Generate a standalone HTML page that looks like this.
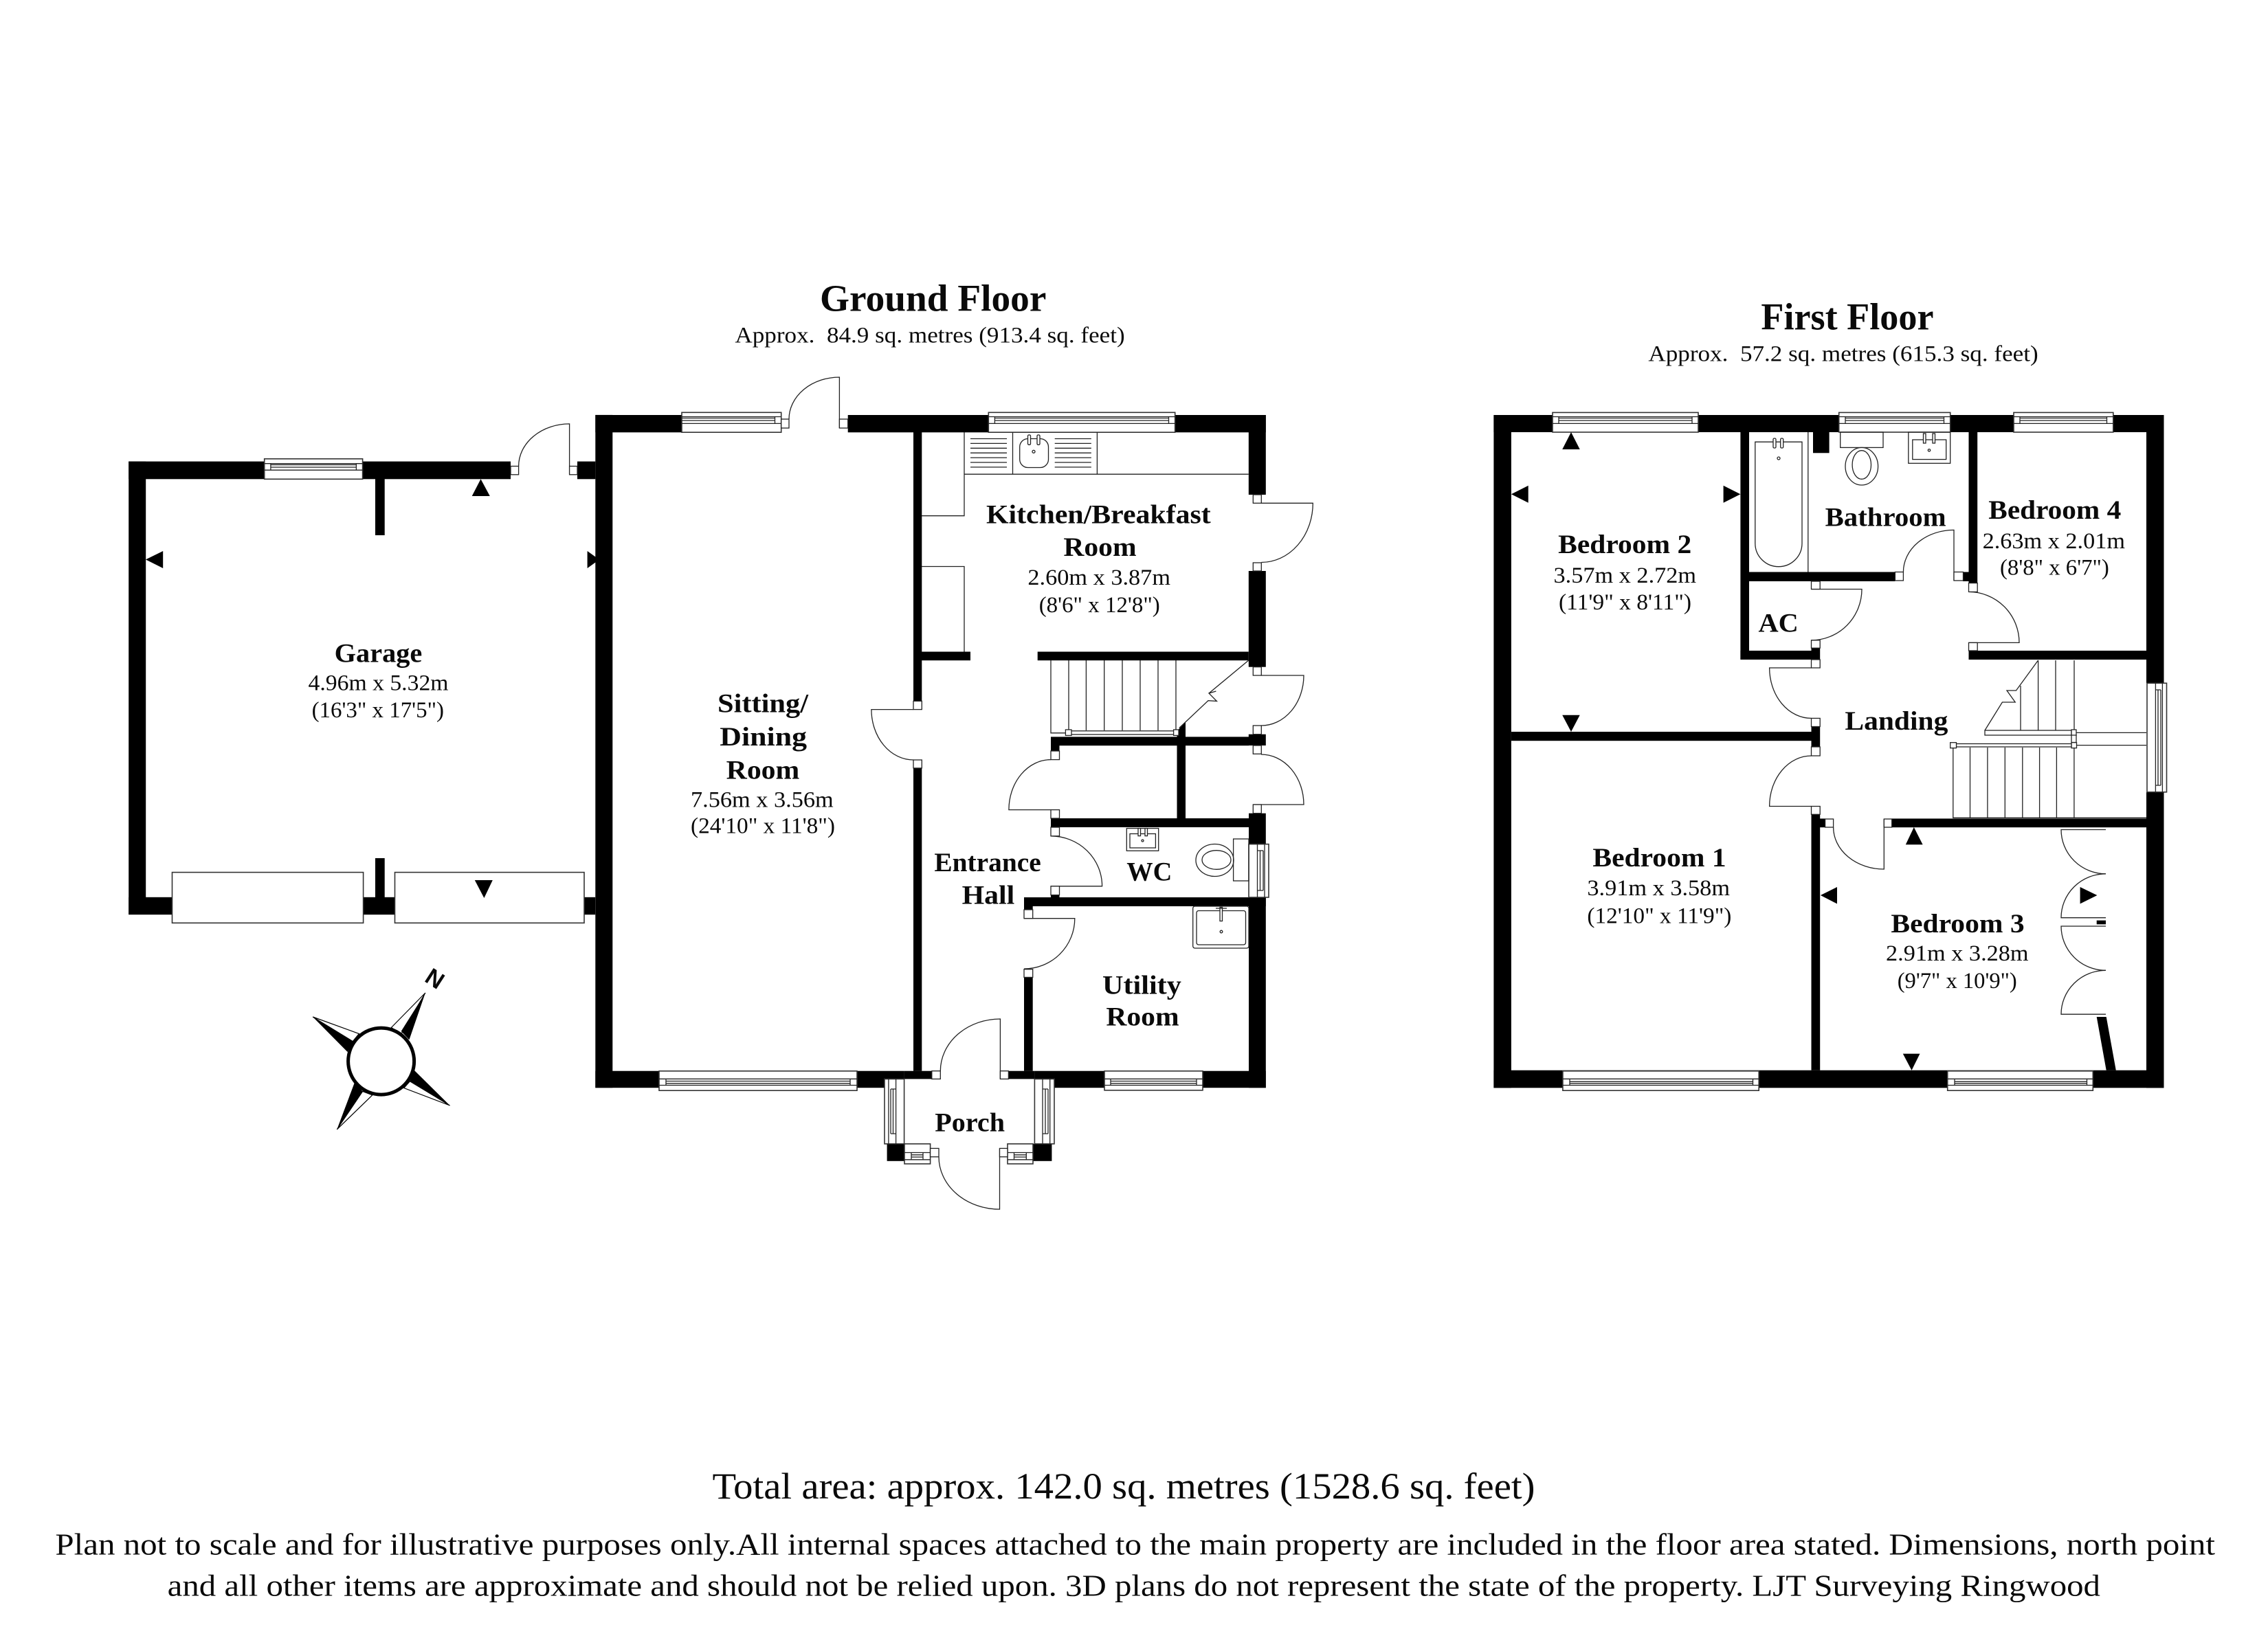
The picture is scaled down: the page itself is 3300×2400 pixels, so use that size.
<!DOCTYPE html>
<html><head><meta charset="utf-8"><title>Floor Plan</title>
<style>
html,body{margin:0;padding:0;background:#fff}
svg{display:block}
text{font-family:"Liberation Serif",serif;fill:#0a0a0a}
.n{font-weight:bold;font-size:39px}
.d{font-size:33px}
.w{fill:#000;stroke:none}
.j{fill:#fff;stroke:#222;stroke-width:1.3}
.l{fill:none;stroke:#222;stroke-width:1.3}
.o{fill:#fff;stroke:#333;stroke-width:1.6}
</style></head>
<body>
<svg width="3300" height="2400" viewBox="0 0 3300 2400" xmlns="http://www.w3.org/2000/svg">
<rect width="3300" height="2400" fill="#fff"/>

<!-- GROUND FLOOR WALLS -->
<g class="w">
<rect x="187.2" y="671.6" width="25" height="659.4"/>
<rect x="187.2" y="671.6" width="555.8" height="25.7"/>
<rect x="840" y="671.6" width="26.3" height="25.7"/>
<rect x="187.2" y="1305.8" width="679" height="25.4"/>
<rect x="546" y="697" width="13.7" height="82"/>
<rect x="546" y="1249" width="13.7" height="82"/>
<rect x="866.3" y="603.9" width="25" height="979.3"/>
<rect x="866.3" y="604" width="270.4" height="25.3"/>
<rect x="1233.7" y="604" width="608.1" height="25.3"/>
<rect x="1816.8" y="604" width="25" height="116"/>
<rect x="1816.8" y="831" width="25" height="139.7"/>
<rect x="1816.8" y="1068.7" width="25" height="16.3"/>
<rect x="1817" y="1183.7" width="24.8" height="399.5"/>
<rect x="866.3" y="1558.7" width="449.3" height="24.5"/>
<rect x="1315.6" y="1558.7" width="40.2" height="11.7"/>
<rect x="1467.4" y="1558.7" width="38" height="11.7"/>
<rect x="1505.4" y="1558.7" width="336.4" height="24.5"/>
<rect x="1329" y="629" width="12.3" height="392"/>
<rect x="1329" y="1117.3" width="12.3" height="441.4"/>
<rect x="1341" y="948.5" width="71" height="12.7"/>
<rect x="1509.7" y="948.5" width="307.1" height="12.7"/>
<rect x="1529" y="1072.4" width="288" height="12.8"/>
<rect x="1529" y="1085" width="12.5" height="8"/>
<polygon points="1725,1051 1712.5,1064 1712.5,1191 1725,1191"/>
<rect x="1529" y="1191" width="288" height="13"/>
<rect x="1490" y="1306" width="351.8" height="13"/>
<rect x="1529" y="1302.6" width="12.5" height="3.4"/>
<rect x="1490" y="1319" width="12.7" height="5"/>
<rect x="1490" y="1422.4" width="12.7" height="136.3"/>
<rect x="1290.6" y="1664.8" width="25.4" height="25"/>
<rect x="1503" y="1664.8" width="27.4" height="25"/>
</g>

<!-- FIRST FLOOR WALLS -->
<g class="w">
<rect x="2173.4" y="604" width="25.5" height="979.3"/>
<rect x="2173.4" y="604" width="975.1" height="25"/>
<rect x="3123" y="604" width="25.5" height="390.3"/>
<rect x="3123" y="1152.8" width="25.5" height="430.5"/>
<rect x="2173.4" y="1557.7" width="975.1" height="25.6"/>
<rect x="2532.4" y="629" width="12.6" height="331"/>
<rect x="2638" y="629" width="23.6" height="30.3"/>
<rect x="2864.5" y="629" width="12.7" height="219.6"/>
<rect x="2545" y="832.5" width="212.4" height="13.5"/>
<rect x="2856" y="832.5" width="9" height="13.5"/>
<rect x="2532.4" y="947" width="115.8" height="13"/>
<rect x="2635.5" y="943.2" width="12.7" height="3.8"/>
<rect x="2864.5" y="947" width="258.5" height="13"/>
<rect x="2198.9" y="1065" width="436.6" height="13.2"/>
<rect x="2635.5" y="1057.5" width="12.7" height="29.5"/>
<rect x="2635.5" y="1185.3" width="12.7" height="372.4"/>
<rect x="2635.5" y="1191.4" width="20" height="12.8"/>
<rect x="2752.7" y="1191.4" width="370.3" height="12.8"/>
<rect x="3050.7" y="1339.6" width="13.3" height="5.7"/>
<polygon points="3050.7,1480 3064.7,1480 3078.8,1557.7 3064.7,1557.7"/>
</g>

<!-- WINDOWS horizontal top -->
<g>
<rect class="o" x="384.7" y="667.8" width="142.9" height="29.5"/>
<path class="l" d="M384.7 674.7H527.6M384.7 684.2H527.6M393.9 676.5H518.4M393.9 680H518.4M393.9 674.7V684.2M518.4 674.7V684.2"/>
<rect class="o" x="992" y="600.3" width="144.7" height="28.9"/>
<path class="l" d="M992 606.5H1136.7M992 616.4H1136.7M992 608.5H1127.5M992 612H1127.5M1127.5 606.5V616.4"/>
<rect class="o" x="1438.3" y="600.3" width="271.4" height="28.9"/>
<path class="l" d="M1438.3 606.5H1709.7M1438.3 616.4H1709.7M1447.4 608.5H1700.5M1447.4 612H1700.5M1447.4 606.5V616.4M1700.5 606.5V616.4"/>
<rect class="o" x="2259" y="600.4" width="212" height="28.6"/>
<path class="l" d="M2259 606.5H2471M2259 616.4H2471M2268 608.5H2462M2268 612H2462M2268 606.5V616.4M2462 606.5V616.4"/>
<rect class="o" x="2675.7" y="600.4" width="162" height="28.6"/>
<path class="l" d="M2675.7 606.5H2837.7M2675.7 616.4H2837.7M2685 608.5H2828.5M2685 612H2828.5M2685 606.5V616.4M2828.5 606.5V616.4"/>
<rect class="o" x="2930" y="600.4" width="144.8" height="28.6"/>
<path class="l" d="M2930 606.5H3074.8M2930 616.4H3074.8M2939 608.5H3065.5M2939 612H3065.5M2939 606.5V616.4M3065.5 606.5V616.4"/>
<!-- horizontal bottom -->
<rect class="o" x="959" y="1558.8" width="288" height="28.4"/>
<path class="l" d="M959 1570.3H1247M959 1579.5H1247M969 1573.5H1237M969 1576.8H1237M969 1570.3V1579.5M1237 1570.3V1579.5"/>
<rect class="o" x="1607" y="1558.8" width="143" height="28"/>
<path class="l" d="M1607 1570.3H1750M1607 1579.5H1750M1616 1573.5H1741M1616 1576.8H1741M1616 1570.3V1579.5M1741 1570.3V1579.5"/>
<rect class="o" x="2273.9" y="1558.8" width="285.3" height="28.4"/>
<path class="l" d="M2273.9 1570.3H2559.2M2273.9 1579.5H2559.2M2284 1574.2H2550.5M2284 1576.8H2550.5M2284 1570.3V1579.5M2550.5 1570.3V1579.5"/>
<rect class="o" x="2833.7" y="1558.8" width="211.6" height="28.4"/>
<path class="l" d="M2833.7 1570.3H3045.3M2833.7 1579.5H3045.3M2844 1574.2H3036.5M2844 1576.8H3036.5M2844 1570.3V1579.5M3036.5 1570.3V1579.5"/>
<!-- porch horizontal -->
<rect class="o" x="1316" y="1664.8" width="37.6" height="29.1"/>
<path class="l" d="M1316 1677.5H1353.6M1316 1687.8H1353.6M1326 1680.8H1343M1326 1684H1343M1326 1677.5V1687.8M1343 1677.5V1687.8"/>
<rect class="o" x="1466" y="1664.8" width="37" height="29.1"/>
<path class="l" d="M1466 1677.5H1503M1466 1687.8H1503M1475.5 1680.8H1493.3M1475.5 1684H1493.3M1475.5 1677.5V1687.8M1493.3 1677.5V1687.8"/>
<!-- vertical -->
<rect class="o" x="1287" y="1570.4" width="28.6" height="94.4"/>
<path class="l" d="M1292.9 1570.4V1664.8M1303.6 1570.4V1664.8M1296 1585H1303.6M1296 1650H1303.6M1296 1585V1650M1299.5 1585V1650"/>
<rect class="o" x="1505.4" y="1570.4" width="28.6" height="94.4"/>
<path class="l" d="M1517 1570.4V1664.8M1527.7 1570.4V1664.8M1517 1585H1525M1517 1650H1525M1521 1585V1650M1525 1585V1650"/>
<rect class="o" x="1817" y="1228.6" width="29" height="77.4"/>
<path class="l" d="M1829.5 1228.6V1306M1840 1228.6V1306M1829.5 1238H1838M1829.5 1296H1838M1833.5 1238V1296M1838 1238V1296"/>
<rect class="o" x="3124" y="994.3" width="28.5" height="158.5"/>
<path class="l" d="M3136.4 994.3V1152.8M3146.4 994.3V1152.8M3136.4 1004H3144M3136.4 1143H3144M3140 1004V1143M3144 1004V1143"/>
</g>

<!-- GARAGE DOORS -->
<rect class="o" x="250.5" y="1269.6" width="278.1" height="73.7"/>
<rect class="o" x="574.5" y="1269.6" width="275.5" height="73.7"/>

<!-- DOORS -->
<g class="l">
<path d="M754.6 678.5A74 61.6 0 0 1 828.6 616.9V690.8"/>
<path d="M1148 610A73.4 61 0 0 1 1221.4 549V623"/>
<path d="M1835.3 732.3H1910.3A75 86.2 0 0 1 1835.3 818.5"/>
<path d="M1835.3 983H1897A61.7 73 0 0 1 1835.3 1056"/>
<path d="M1835 1098A62 73 0 0 1 1897 1171H1823.7"/>
<path d="M1329 1032.6H1267.9A61.1 73.4 0 0 0 1329 1106"/>
<path d="M1529 1105.6A61.1 73 0 0 0 1467.9 1178.6H1529"/>
<path d="M1529 1216.8A74.6 73 0 0 1 1603.6 1289.8H1529"/>
<path d="M1490 1336.7H1563.8A73.8 73.3 0 0 1 1490 1410"/>
<path d="M1368.3 1558.7A87.1 75.7 0 0 1 1455.4 1483V1570.4"/>
<path d="M1366 1683.7A88.5 76.3 0 0 0 1454.5 1760V1671.4"/>
<path d="M2769.4 832.5A73.6 61.1 0 0 1 2843 771.4V845"/>
<path d="M2864.5 861.4A73.5 74 0 0 1 2938 935.4H2864.5"/>
<path d="M2635.5 857.5H2709A73.5 74.3 0 0 1 2635.5 931.8"/>
<path d="M2635.5 972H2574.6A60.9 73.4 0 0 0 2635.5 1045.4"/>
<path d="M2635.5 1100A60.9 73.5 0 0 0 2574.6 1173.5H2635.5"/>
<path d="M2667.6 1204A73.7 61 0 0 0 2741.3 1265V1192"/>
<path d="M3064 1207.5H2999A65 64.3 0 0 0 3064 1271.8"/>
<path d="M3064 1271.8A65 63.9 0 0 0 2999 1335.7H3064"/>
<path d="M3064 1348H2999A65 64.3 0 0 0 3064 1412.3"/>
<path d="M3064 1412.3A65 63.9 0 0 0 2999 1476.2H3064"/>
</g>

<!-- JAMBS -->
<g class="j">
<rect x="743" y="678.5" width="11.6" height="12.3"/><rect x="828.6" y="678.5" width="11.4" height="12.3"/>
<rect x="1136.7" y="610" width="11.3" height="13"/><rect x="1221.4" y="610" width="12.3" height="13"/>
<rect x="1823.3" y="720" width="12" height="12.3"/><rect x="1823.3" y="819" width="12" height="12"/>
<rect x="1823.3" y="970.7" width="12" height="12.3"/><rect x="1823.3" y="1056" width="12" height="12.7"/>
<rect x="1823.3" y="1085" width="12" height="12.3"/><rect x="1823.3" y="1171" width="12" height="12.7"/>
<rect x="1329" y="1020.4" width="12.3" height="12.2"/><rect x="1329" y="1106" width="12.3" height="11.9"/>
<rect x="1529" y="1093" width="12.5" height="12.6"/><rect x="1529" y="1178.6" width="12.5" height="12.4"/>
<rect x="1529" y="1204" width="12.5" height="12.8"/><rect x="1529" y="1289.8" width="12.5" height="12.8"/>
<rect x="1490" y="1324" width="12.7" height="12.7"/><rect x="1490" y="1410.7" width="12.7" height="11.7"/>
<rect x="1355.8" y="1558.7" width="12.5" height="11.7"/><rect x="1455.4" y="1558.7" width="12" height="11.7"/>
<rect x="1353.6" y="1671.4" width="12.4" height="12.3"/><rect x="1454.5" y="1671.4" width="11.5" height="12.3"/>
<rect x="2757.4" y="832.5" width="12" height="12.5"/><rect x="2843" y="832.5" width="13.5" height="12.5"/>
<rect x="2864.5" y="848.6" width="12.7" height="12.8"/><rect x="2864.5" y="935.4" width="12.7" height="11.6"/>
<rect x="2635.5" y="846" width="12.7" height="11.5"/><rect x="2635.5" y="931.8" width="12.7" height="11.4"/>
<rect x="2635.5" y="960" width="12.7" height="12"/><rect x="2635.5" y="1045.4" width="12.7" height="12.1"/>
<rect x="2635.5" y="1087" width="12.7" height="13"/><rect x="2635.5" y="1173.5" width="12.7" height="11.8"/>
<rect x="2655.6" y="1192" width="12" height="12"/><rect x="2741.3" y="1192" width="11.4" height="12"/>
</g>

<!-- KITCHEN FIXTURES -->
<g class="l">
<path d="M1403 629V750.7H1341M1341 824.5H1403V948.5M1403 690.2H1816.8M1473.5 629V690.2M1596.4 629V690.2"/>
<path d="M1412 638.5H1465M1412 645.4H1465M1412 652.3H1465M1412 659.2H1465M1412 666.1H1465M1412 673H1465M1412 679.9H1465"/>
<path d="M1534.7 638.5H1587.8M1534.7 645.4H1587.8M1534.7 652.3H1587.8M1534.7 659.2H1587.8M1534.7 666.1H1587.8M1534.7 673H1587.8M1534.7 679.9H1587.8"/>
<rect x="1483.7" y="638.5" width="41.8" height="42" rx="12" ry="12"/>
<rect x="1495.5" y="633" width="4" height="14.3" rx="1.5" fill="#fff"/>
<rect x="1509" y="633" width="4" height="14.3" rx="1.5" fill="#fff"/>
<circle cx="1504" cy="657.3" r="2"/>
<!-- WC -->
<rect x="1639.3" y="1205.6" width="46.4" height="32.7"/>
<rect x="1644" y="1213.5" width="37.4" height="20.5"/>
<rect x="1656" y="1205.6" width="3.5" height="11" fill="#fff"/>
<rect x="1666" y="1205.6" width="3.5" height="11" fill="#fff"/>
<circle cx="1662.5" cy="1223.5" r="1.5"/>
<rect x="1794.6" y="1221" width="22.4" height="61"/>
<ellipse cx="1767.5" cy="1252" rx="27.5" ry="23.5"/>
<ellipse cx="1770" cy="1251.5" rx="21" ry="13.8"/>
<!-- Utility -->
<rect x="1735.7" y="1319" width="81.3" height="61" rx="3"/>
<rect x="1741" y="1325.5" width="71.5" height="49.5" rx="3"/>
<rect x="1775" y="1320.5" width="3.5" height="20" fill="#fff"/>
<path d="M1769 1322H1785"/>
<circle cx="1777" cy="1356" r="1.8"/>
<!-- Stairs ground -->
<path d="M1529 961V1066.8H1555M1555 961V1063M1580.4 961V1063M1606.7 961V1063M1633 961V1063M1659 961V1063M1685 961V1063M1711 961V1063"/>
<rect x="1555" y="1063.8" width="156" height="5.2"/>
<rect x="1550.4" y="1062" width="8.6" height="8.4" fill="#fff"/>
<rect x="1707.6" y="1062" width="7.4" height="8.4" fill="#fff"/>
<path d="M1816.8 961L1759 1009L1769.4 1006L1759 1009L1770.4 1020.5L1758 1019.7L1715.8 1059.5"/>
<!-- Bathroom -->
<path d="M2553.8 643.2H2622V790.7A34.1 34 0 0 1 2553.8 790.7ZM2630.8 629V832.5"/>
<rect x="2580" y="638" width="4" height="14" rx="1.5" fill="#fff"/>
<rect x="2590.7" y="638" width="4" height="14" rx="1.5" fill="#fff"/>
<circle cx="2588" cy="667" r="2"/>
<rect x="2677.7" y="629" width="62.3" height="22.4"/>
<ellipse cx="2708.8" cy="678.7" rx="23.8" ry="27.3"/>
<ellipse cx="2708.8" cy="676.5" rx="13.7" ry="20.8"/>
<rect x="2776.8" y="629" width="60.9" height="45.3"/>
<rect x="2782.8" y="640" width="48.9" height="28.6"/>
<rect x="2798.5" y="631" width="3.5" height="14" fill="#fff"/>
<rect x="2812" y="631" width="3.5" height="14" fill="#fff"/>
<circle cx="2807" cy="655.3" r="1.7"/>
<!-- Stairs first -->
<path d="M2965.6 961L2933.5 1005H2920L2932.2 1022H2913.4L2888 1063"/>
<path d="M2965.6 961V1063M2991 961V1063M3018 961V1063M2940 998V1063"/>
<rect x="2888" y="1063" width="126" height="7" fill="#fff"/>
<path d="M3020.5 1066.4H3123M3020.5 1084.6H3123"/>
<rect x="3014" y="1062" width="7" height="8.5" fill="#fff"/>
<rect x="3014" y="1070" width="7" height="10.5" fill="#fff"/>
<rect x="3014" y="1080.7" width="7.5" height="8" fill="#fff"/>
<rect x="2846.5" y="1082.5" width="167.5" height="4.5" fill="#fff"/>
<rect x="2837.7" y="1080.7" width="8.8" height="8" fill="#fff"/>
<path d="M2841.8 1088V1190.3H3123M2866.5 1088V1190.3M2891.9 1088V1190.3M2917.3 1088V1190.3M2942.8 1088V1190.3M2967.6 1088V1190.3M2992.4 1088V1190.3M3017.9 1088V1190.3"/>
</g>

<!-- ARROWS -->
<g class="w">
<polygon points="699.5,697.3 686.7,722 712.8,722"/>
<polygon points="212,814.4 237.2,802 237.2,827"/>
<polygon points="854.6,802 854.6,827 872,814.5"/>
<polygon points="704.4,1307 690.8,1281 716.8,1281"/>
<polygon points="2286,629 2273.2,654 2298.7,654"/>
<polygon points="2198.9,719.3 2223.7,706.8 2223.7,731.8"/>
<polygon points="2532.4,719.3 2507.6,706.8 2507.6,731.8"/>
<polygon points="2286,1065 2273.2,1040.7 2298.7,1040.7"/>
<polygon points="2784.8,1204 2772.8,1229.3 2797.6,1229.3"/>
<polygon points="2648.9,1303 2673,1291 2673,1315.4"/>
<polygon points="3051.4,1303 3026.6,1291 3026.6,1315.4"/>
<polygon points="2781.5,1557.7 2768.8,1533.6 2793.5,1533.6"/>
</g>

<!-- COMPASS -->
<g>
<polygon points="618.9,1445 569.4,1495.5 583.7,1505" fill="#fff" stroke="#000" stroke-width="1.2"/>
<polygon points="618.9,1445 583.7,1500.9 595.4,1513.4" fill="#000"/>
<polygon points="455.1,1480 522.4,1504.5 513.3,1515.6" fill="#fff" stroke="#000" stroke-width="1.2"/>
<polygon points="455.1,1480 513.3,1515.6 505.6,1531" fill="#000"/>
<polygon points="654.6,1609 587.8,1583.5 596.4,1573.7" fill="#fff" stroke="#000" stroke-width="1.2"/>
<polygon points="654.6,1609 596.4,1573.7 603,1558" fill="#000"/>
<polygon points="490.3,1643.8 541.8,1593.8 527.6,1588.4" fill="#fff" stroke="#000" stroke-width="1.2"/>
<polygon points="490.3,1643.8 527.6,1588.4 515.8,1575.9" fill="#000"/>
<ellipse cx="554.6" cy="1544.6" rx="48" ry="48.5" fill="#fff" stroke="#000" stroke-width="5"/>
<text transform="translate(633 1424) rotate(33)" x="0" y="12" text-anchor="middle" style="font-family:'Liberation Sans',sans-serif;font-weight:bold;font-size:34px" fill="#000">N</text>
</g>

<!-- TITLES -->
<text x="1193" y="452.7" textLength="329.4" lengthAdjust="spacingAndGlyphs" style="font-weight:bold;font-size:55px">Ground Floor</text>
<text x="1069.4" y="498.3" textLength="567.3" lengthAdjust="spacingAndGlyphs" style="font-size:33px">Approx.&#160; 84.9 sq. metres (913.4 sq. feet)</text>
<text x="2562.4" y="479.3" textLength="251.1" lengthAdjust="spacingAndGlyphs" style="font-weight:bold;font-size:55px">First Floor</text>
<text x="2398.4" y="525.3" textLength="567.3" lengthAdjust="spacingAndGlyphs" style="font-size:33px">Approx.&#160; 57.2 sq. metres (615.3 sq. feet)</text>

<!-- ROOM LABELS GROUND -->
<text class="n" x="486.7" y="963.6" textLength="127.6" lengthAdjust="spacingAndGlyphs">Garage</text>
<text class="d" x="448.5" y="1004.5" textLength="204" lengthAdjust="spacingAndGlyphs">4.96m x 5.32m</text>
<text class="d" x="453.6" y="1043.8" textLength="192.4" lengthAdjust="spacingAndGlyphs">(16'3" x 17'5")</text>

<text class="n" x="1044" y="1036.7" textLength="132" lengthAdjust="spacingAndGlyphs">Sitting/</text>
<text class="n" x="1047.3" y="1085" textLength="126.7" lengthAdjust="spacingAndGlyphs">Dining</text>
<text class="n" x="1056.7" y="1133.3" textLength="106.6" lengthAdjust="spacingAndGlyphs">Room</text>
<text class="d" x="1005" y="1174.3" textLength="207.7" lengthAdjust="spacingAndGlyphs">7.56m x 3.56m</text>
<text class="d" x="1005" y="1212.7" textLength="210" lengthAdjust="spacingAndGlyphs">(24'10" x 11'8")</text>

<text class="n" x="1435" y="761.4" textLength="326.7" lengthAdjust="spacingAndGlyphs">Kitchen/Breakfast</text>
<text class="n" x="1547.4" y="809.2" textLength="106.2" lengthAdjust="spacingAndGlyphs">Room</text>
<text class="d" x="1495.4" y="851" textLength="207.6" lengthAdjust="spacingAndGlyphs">2.60m x 3.87m</text>
<text class="d" x="1511.7" y="891" textLength="176.1" lengthAdjust="spacingAndGlyphs">(8'6" x 12'8")</text>

<text class="n" x="1359.4" y="1267.9" textLength="155.3" lengthAdjust="spacingAndGlyphs">Entrance</text>
<text class="n" x="1399.6" y="1315.3" textLength="76.7" lengthAdjust="spacingAndGlyphs">Hall</text>
<text class="n" x="1639.3" y="1281.6" textLength="66.1" lengthAdjust="spacingAndGlyphs">WC</text>
<text class="n" x="1604" y="1446.4" textLength="114.8" lengthAdjust="spacingAndGlyphs">Utility</text>
<text class="n" x="1609.4" y="1492.3" textLength="106.2" lengthAdjust="spacingAndGlyphs">Room</text>
<text class="n" x="1360.3" y="1646.4" textLength="101.7" lengthAdjust="spacingAndGlyphs">Porch</text>

<!-- ROOM LABELS FIRST -->
<text class="n" x="2267.2" y="805" textLength="194" lengthAdjust="spacingAndGlyphs">Bedroom 2</text>
<text class="d" x="2260.5" y="847.9" textLength="207.6" lengthAdjust="spacingAndGlyphs">3.57m x 2.72m</text>
<text class="d" x="2268" y="887" textLength="193" lengthAdjust="spacingAndGlyphs">(11'9" x 8'11")</text>
<text class="n" x="2655.6" y="765.7" textLength="176.1" lengthAdjust="spacingAndGlyphs">Bathroom</text>
<text class="n" x="2893.3" y="755" textLength="192.9" lengthAdjust="spacingAndGlyphs">Bedroom 4</text>
<text class="d" x="2884.6" y="797.9" textLength="207.4" lengthAdjust="spacingAndGlyphs">2.63m x 2.01m</text>
<text class="d" x="2910" y="836.4" textLength="158.8" lengthAdjust="spacingAndGlyphs">(8'8" x 6'7")</text>
<text class="n" x="2558.5" y="919.3" textLength="58.3" lengthAdjust="spacingAndGlyphs">AC</text>
<text class="n" x="2684.4" y="1062" textLength="150" lengthAdjust="spacingAndGlyphs">Landing</text>
<text class="n" x="2317.4" y="1261" textLength="194.2" lengthAdjust="spacingAndGlyphs">Bedroom 1</text>
<text class="d" x="2309.4" y="1303.2" textLength="207.6" lengthAdjust="spacingAndGlyphs">3.91m x 3.58m</text>
<text class="d" x="2309.4" y="1343.4" textLength="210" lengthAdjust="spacingAndGlyphs">(12'10" x 11'9")</text>
<text class="n" x="2751.4" y="1356.8" textLength="194.2" lengthAdjust="spacingAndGlyphs">Bedroom 3</text>
<text class="d" x="2744" y="1398" textLength="207.6" lengthAdjust="spacingAndGlyphs">2.91m x 3.28m</text>
<text class="d" x="2760.7" y="1437.9" textLength="174.1" lengthAdjust="spacingAndGlyphs">(9'7" x 10'9")</text>

<!-- FOOTER -->
<text x="1036.5" y="2181" textLength="1197" lengthAdjust="spacingAndGlyphs" style="font-size:54px">Total area: approx. 142.0 sq. metres (1528.6 sq. feet)</text>
<text x="80.4" y="2262.7" textLength="3142.6" lengthAdjust="spacingAndGlyphs" style="font-size:44px">Plan not to scale and for illustrative purposes only.All internal spaces attached to the main property are included in the floor area stated. Dimensions, north point</text>
<text x="243.7" y="2322.7" textLength="2812.3" lengthAdjust="spacingAndGlyphs" style="font-size:44px">and all other items are approximate and should not be relied upon. 3D plans do not represent the state of the property. LJT Surveying Ringwood</text>
</svg>
</body></html>
